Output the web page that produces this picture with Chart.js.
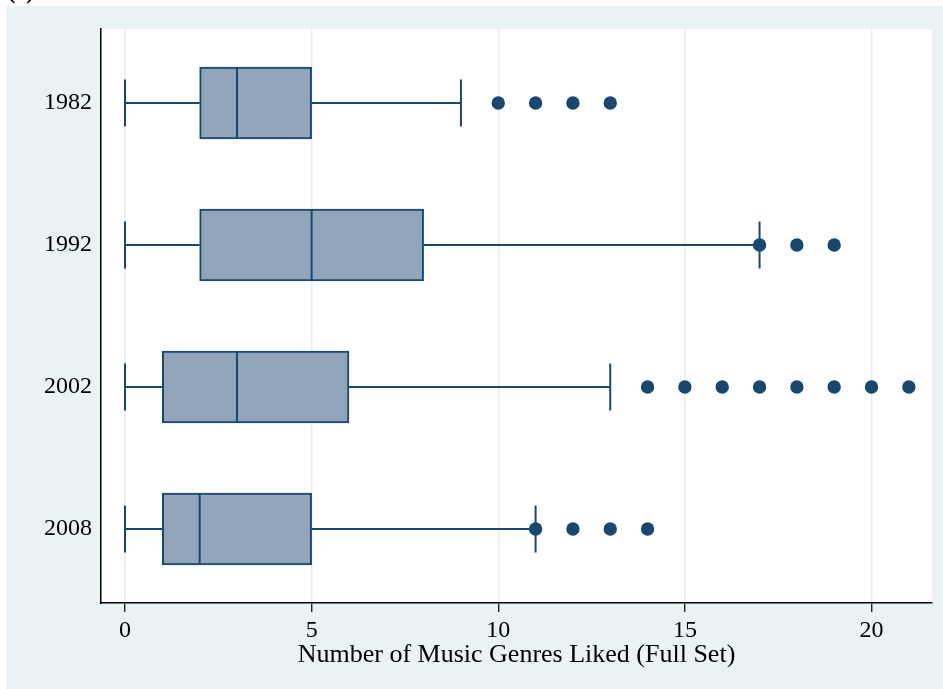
<!DOCTYPE html>
<html>
<head>
<meta charset="utf-8">
<script src="https://cdn.jsdelivr.net/npm/chart.js@4"></script>
<style>
  html, body { margin: 0; padding: 0; background: #fff; }
  #wrap { width: 943px; height: 689px; }
</style>
</head>
<body>
<div id="wrap"><canvas id="c"></canvas></div>
<script>
// Data
const years    = ['1982', '1992', '2002', '2008'];
const mins     = [0, 0, 0, 0];
const q1s      = [2, 2, 1, 1];
const medians  = [3, 5, 3, 2];
const q3s      = [5, 8, 6, 5];
const maxs     = [9, 17, 13, 11];
const outliers = [
  [10, 11, 12, 13],
  [17, 18, 19],
  [14, 15, 16, 17, 18, 19, 20, 21],
  [11, 12, 13, 14],
];
const xTicks = [0, 5, 10, 15, 20];
const xTitle = 'Number of Music Genres Liked (Full Set)';

const NAVY = '#1a476f';
const FILL = '#90a5ba';
const PANEL = '#eaf2f3';
const FONT = "'Liberation Serif', serif";

const whiskers = [];
years.forEach((y, i) => {
  whiskers.push({ type: 'line', data: [{ x: mins[i], y: i }, { x: q1s[i], y: i }] });
  whiskers.push({ type: 'line', data: [{ x: q3s[i], y: i }, { x: maxs[i], y: i }] });
});

const datasets = [
  {
    type: 'scatter', order: 0,
    data: outliers.flatMap((arr, i) => arr.map(v => ({ x: v, y: i }))),
    pointStyle: 'circle', pointRadius: 6.7, backgroundColor: NAVY, borderWidth: 0,
  },
  {
    type: 'scatter', order: 1,
    data: years.flatMap((y, i) => [{ x: mins[i], y: i }, { x: maxs[i], y: i }]),
    pointStyle: 'line', rotation: 90, pointRadius: 23.5, borderColor: NAVY, borderWidth: 2,
  },
  {
    type: 'scatter', order: 2,
    data: years.map((y, i) => ({ x: medians[i], y: i })),
    pointStyle: 'line', rotation: 90, pointRadius: 36, borderColor: NAVY, borderWidth: 2,
  },
  {
    type: 'bar', order: 3, indexAxis: 'y',
    data: years.map((y, i) => ({ x: [q1s[i], q3s[i]], y: i })),
    barThickness: 72, backgroundColor: FILL, borderColor: NAVY, borderWidth: 2, borderSkipped: false,
  },
  ...whiskers.map(w => ({
    ...w, order: 4, borderColor: NAVY, borderWidth: 2, pointRadius: 0, fill: false,
  })),
];

// panel background + white plot area + clipped "(a)" label
const panelBg = {
  id: 'panelBg',
  beforeDraw(chart) {
    const { ctx, chartArea: a } = chart;
    ctx.save();
    ctx.fillStyle = PANEL;
    ctx.fillRect(6, 6, chart.width - 6, chart.height - 6);
    ctx.fillStyle = '#fff';
    ctx.fillRect(a.left, a.top, a.right - a.left, a.bottom - a.top);
    ctx.restore();
  },
  afterDraw(chart) {
    const ctx = chart.ctx;
    ctx.save();
    ctx.fillStyle = '#000';
    ctx.font = `bold 22px ${FONT}`;
    ctx.textBaseline = 'alphabetic';
    ctx.fillText('(a)', 8, -1);
    ctx.restore();
  }
};

new Chart(document.getElementById('c'), {
  type: 'scatter',
  data: { datasets },
  options: {
    responsive: true,
    maintainAspectRatio: false,
    animation: false,
    layout: { autoPadding: false, padding: { top: 29, right: 11, left: 0, bottom: 0 } },
    plugins: { legend: { display: false }, tooltip: { enabled: false } },
    scales: {
      x: {
        type: 'linear', min: -0.643, max: 21.62, offset: false,
        afterBuildTicks: s => { s.ticks = xTicks.map(v => ({ value: v })); },
        afterFit: s => { s.height = 86; s.paddingLeft = 0; s.paddingRight = 0; },
        grid: { color: '#e3ecef', lineWidth: 1.5, offset: false, drawTicks: true, tickLength: 9, tickColor: '#000', tickWidth: 1.2 },
        border: { color: '#000', width: 1.5 },
        ticks: { color: '#000', font: { family: FONT, size: 24 }, padding: 4, maxRotation: 0 },
        title: { display: true, text: xTitle, color: '#000', font: { family: FONT, size: 26 }, padding: { top: 0, bottom: 18 } },
      },
      y: {
        type: 'linear', reverse: true, min: -0.521, max: 3.521, offset: false,
        afterBuildTicks: s => { s.ticks = years.map((y, i) => ({ value: i })); },
        afterFit: s => { s.width = 101; s.paddingTop = 0; s.paddingBottom = 0; },
        grid: { display: false, drawTicks: false, offset: false },
        border: { color: '#000', width: 1.5 },
        ticks: { color: '#000', font: { family: FONT, size: 24 }, padding: 9, callback: v => years[v] },
      },
    },
  },
  plugins: [panelBg],
});
</script>
</body>
</html>
